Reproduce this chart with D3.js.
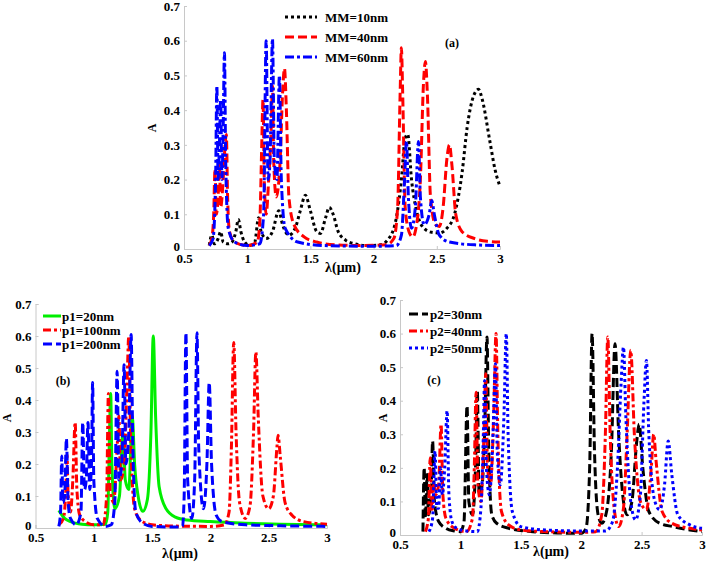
<!DOCTYPE html>
<html><head><meta charset="utf-8">
<script src="https://cdn.jsdelivr.net/npm/d3@7/dist/d3.min.js"></script>
<style>body{margin:0;background:#fff}svg{display:block}text{font-family:"Liberation Serif","Times New Roman",serif;font-weight:bold}</style>
</head><body>
<script>
const xTicks=[0.5,1,1.5,2,2.5,3];
const yTicks=[0,0.1,0.2,0.3,0.4,0.5,0.6,0.7];
const xTickLabels=["0.5","1","1.5","2","2.5","3"];
const yTickLabels=["0","0.1","0.2","0.3","0.4","0.5","0.6","0.7"];

// Panel (a)
const legendA=["MM=10nm","MM=40nm","MM=60nm"];
const mm10=[[0.70,0.01],[0.72,0.04],[0.74,0.015],[0.77,0.03],[0.79,0.05],[0.81,0.02],[0.85,0.015],[0.88,0.02],[0.91,0.05],[0.93,0.085],[0.95,0.05],[0.98,0.02],[1.02,0.01],[1.06,0.02],[1.09,0.09],[1.11,0.05],[1.15,0.03],[1.2,0.05],[1.25,0.11],[1.28,0.07],[1.33,0.04],[1.38,0.06],[1.42,0.11],[1.46,0.155],[1.50,0.11],[1.55,0.05],[1.58,0.045],[1.62,0.09],[1.65,0.12],[1.68,0.1],[1.72,0.05],[1.78,0.025],[1.85,0.015],[1.95,0.01],[2.05,0.012],[2.12,0.03],[2.18,0.09],[2.22,0.2],[2.25,0.32],[2.27,0.33],[2.30,0.2],[2.34,0.11],[2.39,0.063],[2.46,0.048],[2.52,0.046],[2.58,0.06],[2.64,0.1],[2.70,0.22],[2.74,0.35],[2.79,0.44],[2.83,0.46],[2.86,0.43],[2.92,0.31],[2.96,0.23],[3.0,0.18]];
const mm40=[[0.70,0.01],[0.72,0.03],[0.735,0.1],[0.745,0.23],[0.755,0.1],[0.77,0.15],[0.78,0.25],[0.79,0.12],[0.81,0.2],[0.825,0.3],[0.835,0.33],[0.845,0.15],[0.86,0.05],[0.9,0.02],[1.0,0.01],[1.08,0.02],[1.1,0.08],[1.115,0.3],[1.125,0.43],[1.135,0.2],[1.15,0.1],[1.17,0.2],[1.19,0.35],[1.2,0.47],[1.21,0.25],[1.23,0.15],[1.26,0.25],[1.28,0.45],[1.295,0.52],[1.31,0.4],[1.33,0.15],[1.37,0.07],[1.45,0.035],[1.55,0.02],[1.7,0.012],[1.9,0.01],[2.1,0.012],[2.16,0.03],[2.19,0.12],[2.21,0.45],[2.22,0.58],[2.23,0.45],[2.25,0.12],[2.28,0.05],[2.31,0.035],[2.34,0.07],[2.37,0.2],[2.395,0.48],[2.41,0.54],[2.425,0.45],[2.45,0.15],[2.49,0.07],[2.52,0.065],[2.55,0.12],[2.58,0.26],[2.60,0.30],[2.62,0.24],[2.65,0.1],[2.7,0.05],[2.8,0.03],[2.9,0.022],[3.0,0.02]];
const mm60=[[0.7,0.01],[0.73,0.03],[0.75,0.2],[0.76,0.47],[0.77,0.2],[0.78,0.3],[0.79,0.43],[0.80,0.2],[0.81,0.35],[0.82,0.565],[0.83,0.25],[0.85,0.06],[0.9,0.02],[1.0,0.01],[1.1,0.015],[1.13,0.1],[1.15,0.6],[1.165,0.2],[1.18,0.25],[1.2,0.605],[1.215,0.25],[1.235,0.2],[1.255,0.5],[1.27,0.2],[1.3,0.06],[1.4,0.02],[1.6,0.01],[2.0,0.008],[2.18,0.01],[2.22,0.04],[2.245,0.2],[2.26,0.31],[2.275,0.15],[2.3,0.06],[2.33,0.12],[2.355,0.31],[2.37,0.15],[2.4,0.07],[2.44,0.1],[2.46,0.14],[2.48,0.1],[2.52,0.04],[2.6,0.02],[2.8,0.012],[3.0,0.01]];

// Panel (b)
const legendB=["p1=20nm","p1=100nm","p1=200nm"];
const p1_20=[[0.70,0.055],[0.75,0.03],[0.8,0.02],[0.9,0.012],[1.0,0.01],[1.1,0.012],[1.12,0.05],[1.135,0.3],[1.145,0.42],[1.155,0.2],[1.18,0.06],[1.22,0.1],[1.25,0.3],[1.27,0.15],[1.3,0.12],[1.33,0.35],[1.35,0.2],[1.38,0.1],[1.42,0.052],[1.46,0.09],[1.49,0.3],[1.51,0.6],[1.53,0.35],[1.56,0.13],[1.62,0.06],[1.7,0.034],[1.8,0.025],[2.0,0.02],[2.3,0.015],[2.6,0.012],[3.0,0.01]];
const p1_100=[[0.70,0.01],[0.74,0.03],[0.76,0.12],[0.77,0.23],[0.78,0.1],[0.8,0.05],[0.82,0.15],[0.84,0.33],[0.855,0.12],[0.88,0.04],[0.95,0.015],[1.0,0.01],[1.08,0.01],[1.11,0.1],[1.125,0.42],[1.14,0.12],[1.17,0.08],[1.2,0.25],[1.215,0.35],[1.23,0.15],[1.26,0.2],[1.285,0.45],[1.30,0.60],[1.315,0.3],[1.35,0.06],[1.4,0.025],[1.5,0.01],[1.7,0.006],[2.0,0.005],[2.12,0.01],[2.16,0.05],[2.18,0.25],[2.20,0.58],[2.22,0.3],[2.25,0.08],[2.30,0.03],[2.34,0.07],[2.37,0.3],[2.39,0.55],[2.41,0.35],[2.45,0.1],[2.5,0.06],[2.54,0.1],[2.57,0.25],[2.58,0.29],[2.60,0.22],[2.64,0.08],[2.7,0.04],[2.8,0.02],[3.0,0.012]];
const p1_200=[[0.70,0.005],[0.715,0.05],[0.725,0.225],[0.735,0.08],[0.75,0.1],[0.765,0.28],[0.78,0.08],[0.8,0.03],[0.85,0.01],[0.89,0.05],[0.905,0.33],[0.92,0.12],[0.935,0.15],[0.95,0.33],[0.965,0.12],[0.98,0.2],[0.99,0.455],[1.0,0.15],[1.03,0.03],[1.1,0.005],[1.15,0.01],[1.18,0.08],[1.20,0.49],[1.215,0.15],[1.24,0.2],[1.26,0.51],[1.275,0.2],[1.30,0.3],[1.32,0.605],[1.335,0.25],[1.36,0.05],[1.42,0.015],[1.5,0.005],[1.7,0.003],[1.76,0.005],[1.775,0.1],[1.79,0.61],[1.805,0.15],[1.84,0.03],[1.865,0.15],[1.885,0.61],[1.90,0.25],[1.94,0.06],[1.97,0.2],[1.99,0.455],[2.01,0.2],[2.05,0.04],[2.1,0.02],[2.3,0.01],[2.6,0.007],[3.0,0.005]];

// Panel (c)
const legendC=["p2=30nm","p2=40nm","p2=50nm"];
const p2_30=[[0.69,0.01],[0.70,0.2],[0.71,0.05],[0.725,0.18],[0.735,0.06],[0.755,0.1],[0.77,0.28],[0.785,0.1],[0.82,0.04],[0.88,0.02],[0.95,0.012],[1.0,0.01],[1.03,0.04],[1.055,0.385],[1.07,0.1],[1.1,0.06],[1.125,0.2],[1.14,0.43],[1.155,0.12],[1.18,0.15],[1.2,0.3],[1.22,0.59],[1.235,0.25],[1.26,0.06],[1.3,0.035],[1.4,0.02],[1.6,0.01],[1.8,0.006],[2.0,0.005],[2.04,0.02],[2.07,0.2],[2.09,0.60],[2.11,0.25],[2.14,0.06],[2.17,0.035],[2.21,0.07],[2.25,0.25],[2.28,0.57],[2.31,0.3],[2.35,0.1],[2.38,0.06],[2.42,0.1],[2.46,0.28],[2.48,0.33],[2.51,0.2],[2.56,0.07],[2.65,0.035],[2.76,0.025],[2.9,0.015],[3.0,0.01]];
const p2_40=[[0.71,0.01],[0.735,0.05],[0.75,0.23],[0.765,0.07],[0.78,0.15],[0.795,0.12],[0.82,0.15],[0.84,0.33],[0.855,0.12],[0.88,0.05],[0.95,0.02],[1.05,0.01],[1.1,0.05],[1.115,0.2],[1.13,0.425],[1.145,0.15],[1.17,0.1],[1.195,0.3],[1.21,0.48],[1.225,0.2],[1.25,0.15],[1.275,0.35],[1.295,0.6],[1.31,0.3],[1.34,0.07],[1.4,0.03],[1.5,0.015],[1.7,0.01],[2.0,0.008],[2.12,0.01],[2.17,0.06],[2.2,0.3],[2.22,0.59],[2.24,0.3],[2.28,0.06],[2.31,0.025],[2.35,0.08],[2.38,0.3],[2.41,0.55],[2.44,0.3],[2.49,0.1],[2.54,0.075],[2.58,0.2],[2.60,0.30],[2.62,0.22],[2.67,0.07],[2.75,0.035],[2.9,0.02],[3.0,0.015]];
const p2_50=[[0.74,0.01],[0.77,0.05],[0.79,0.25],[0.805,0.08],[0.82,0.08],[0.835,0.2],[0.85,0.12],[0.87,0.2],[0.89,0.37],[0.905,0.12],[0.93,0.04],[0.97,0.02],[1.05,0.012],[1.14,0.01],[1.17,0.08],[1.19,0.3],[1.2,0.46],[1.215,0.2],[1.24,0.12],[1.27,0.3],[1.29,0.51],[1.305,0.25],[1.33,0.15],[1.36,0.35],[1.38,0.6],[1.395,0.3],[1.43,0.07],[1.5,0.025],[1.7,0.015],[2.0,0.012],[2.2,0.012],[2.26,0.04],[2.3,0.2],[2.33,0.45],[2.35,0.56],[2.37,0.35],[2.41,0.1],[2.45,0.045],[2.49,0.12],[2.52,0.4],[2.54,0.52],[2.56,0.3],[2.61,0.1],[2.65,0.075],[2.69,0.15],[2.72,0.28],[2.75,0.18],[2.8,0.06],[2.9,0.03],[3.0,0.02]];

const W=706,H=570;
const svg=d3.select("body").append("svg").attr("width",W).attr("height",H);

const panels=[
 {x0:184,x1:500,y0:249,y1:6,tag:"(a)",tagX:452,tagY:47,
  xLab:[343,272],yLab:[156,128],
  leg:{x:285,y:17,dy:20,len:32,tx:325,names:legendA},
  series:[{d:mm10,c:"#000",dash:"3,3"},{d:mm40,c:"#ff0000",dash:"9,4"},{d:mm60,c:"#0000ff",dash:"9,3,3,3"}]},
 {x0:35.5,x1:327,y0:528,y1:304,tag:"(b)",tagX:63,tagY:385,
  xLab:[180,558],yLab:[11,418],
  leg:{x:43,y:316,dy:14,len:18,tx:62,names:legendB},
  series:[{d:p1_20,c:"#00ee00",dash:null},{d:p1_100,c:"#ff0000",dash:"8,3,3,3"},{d:p1_200,c:"#0000ff",dash:"9,4"}]},
 {x0:400,x1:702,y0:535,y1:300,tag:"(c)",tagX:434,tagY:384,
  xLab:[551,556],yLab:[387,418],
  leg:{x:409,y:314,dy:17,len:19,tx:430,names:legendC},
  series:[{d:p2_30,c:"#000",dash:"9,4"},{d:p2_40,c:"#ff0000",dash:"8,3,3,3"},{d:p2_50,c:"#0000ff",dash:"3,3"}]}
];

panels.forEach(p=>{
  const x=d3.scaleLinear().domain([0.5,3]).range([p.x0,p.x1]);
  const y=d3.scaleLinear().domain([0,0.7]).range([p.y0,p.y1]);
  const g=svg.append("g");
  const xa=g.append("g").attr("transform",`translate(0,${p.y0})`)
    .call(d3.axisBottom(x).tickValues(xTicks).tickFormat((d,i)=>xTickLabels[i]).tickSize(-3).tickPadding(5));
  const ya=g.append("g").attr("transform",`translate(${p.x0},0)`)
    .call(d3.axisLeft(y).tickValues(yTicks).tickFormat((d,i)=>yTickLabels[i]).tickSize(-3).tickPadding(4));
  [xa,ya].forEach(a=>{
    a.select(".domain").attr("stroke","#c8c8c8");
    a.selectAll(".tick line").attr("stroke","#c8c8c8");
    a.selectAll("text").attr("font-family","Liberation Serif").attr("font-weight","bold").attr("font-size",13).attr("fill","#000");
  });
  ya.selectAll(".tick text").filter((d)=>d===0).attr("dy","0.1em");
  const line=d3.line().x(d=>x(d[0])).y(d=>y(d[1])).curve(d3.curveMonotoneX);
  p.series.forEach(s=>{
    g.append("path").attr("d",line(s.d)).attr("fill","none").attr("stroke",s.c)
     .attr("stroke-width",3).attr("stroke-dasharray",s.dash).attr("stroke-linejoin","round");
  });
  p.series.forEach((s,i)=>{
    const yy=p.leg.y+i*p.leg.dy;
    g.append("line").attr("x1",p.leg.x).attr("x2",p.leg.x+p.leg.len).attr("y1",yy).attr("y2",yy)
     .attr("stroke",s.c).attr("stroke-width",3).attr("stroke-dasharray",s.dash);
    g.append("text").attr("x",p.leg.tx).attr("y",yy).attr("dy","0.35em").attr("font-size",13).text(p.leg.names[i]);
  });
  g.append("text").attr("x",p.tagX).attr("y",p.tagY).attr("text-anchor","middle").attr("font-size",12).text(p.tag);
  g.append("text").attr("x",p.xLab[0]).attr("y",p.xLab[1]).attr("text-anchor","middle").attr("font-size",14).text("λ(μm)");
  g.append("text").attr("transform",`translate(${p.yLab[0]},${p.yLab[1]}) rotate(-90)`).attr("text-anchor","middle").attr("font-size",12).text("A");
});
</script>
</body></html>
